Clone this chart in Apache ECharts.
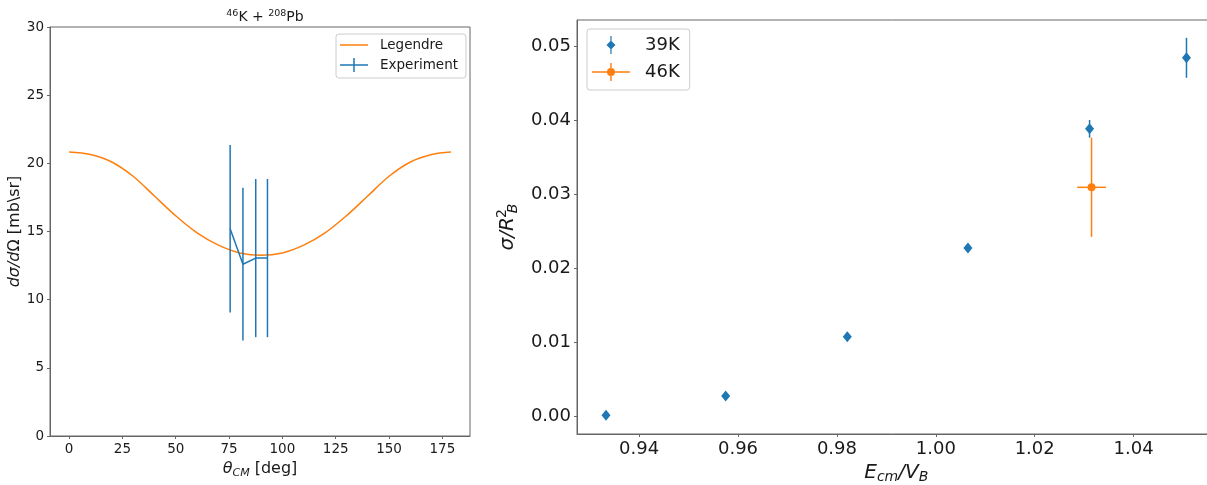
<!DOCTYPE html>
<html>
<head>
<meta charset="utf-8">
<script src="https://cdn.jsdelivr.net/npm/echarts@6/dist/echarts.min.js"></script>
<style>
html,body{margin:0;padding:0;background:#fff;}
#chart{width:1207px;height:485px;}
</style>
</head>
<body>
<div id="chart"></div>
<script>
// ---------- data: left panel (46K + 208Pb) ----------
const legTheta = [0, 10, 20, 30, 40, 50, 60, 70, 80, 90, 100, 110, 120, 130, 140, 150, 160, 170, 179];
const legSigma = [20.83, 20.65, 20.10, 19.05, 17.60, 16.15, 14.90, 14.00, 13.43, 13.25, 13.43, 14.00, 14.90, 16.15, 17.60, 19.05, 20.10, 20.65, 20.83];
const expTheta = [75.5, 81.5, 87.5, 93.0];
const expSigma = [15.2, 12.6, 13.05, 13.05];
const expErr = [6.15, 5.6, 5.8, 5.8];
const leftXTicks = [0, 25, 50, 75, 100, 125, 150, 175];
const leftYTicks = [0, 5, 10, 15, 20, 25, 30];

// ---------- data: right panel ----------
const k39X = [0.9333, 0.9575, 0.9821, 1.0065, 1.0311, 1.0507];
const k39Y = [0.0002, 0.0028, 0.0108, 0.0228, 0.0389, 0.0485];
const k39Err = [0.0001, 0.0002, 0.0003, 0.0004, 0.0012, 0.0027];
const k46X = [1.0315];
const k46Y = [0.0310];
const k46YErr = [0.0067];
const k46XErr = [0.0029];
const rightXTicks = [0.94, 0.96, 0.98, 1.00, 1.02, 1.04];
const rightYTicks = [0.00, 0.01, 0.02, 0.03, 0.04, 0.05];

const BLUE = '#1f77b4', ORANGE = '#ff7f0e';
const FONT = 'DejaVu Sans';
const TXT = '#1a1a1a';
const SPINE = '#666';

function errV(color, width) {
  return function (params, api) {
    const x = api.value(0), y = api.value(1), e = api.value(2);
    const p1 = api.coord([x, y - e]), p2 = api.coord([x, y + e]);
    return {type: 'line', shape: {x1: p1[0], y1: p1[1], x2: p2[0], y2: p2[1]},
      style: {stroke: color, lineWidth: width}};
  };
}
function errH(color, width) {
  return function (params, api) {
    const x = api.value(0), y = api.value(1), e = api.value(2);
    const p1 = api.coord([x - e, y]), p2 = api.coord([x + e, y]);
    return {type: 'line', shape: {x1: p1[0], y1: p1[1], x2: p2[0], y2: p2[1]},
      style: {stroke: color, lineWidth: width}};
  };
}

const dot = (x, y) => `M${x},${y}h0.01v0.01h-0.01z`;
const iconLine = 'path://' + dot(0, 0) + dot(28, 14) + 'M0,6.25h28v1.5h-28z';
const iconErr = 'path://' + dot(0, 0) + dot(28, 14) + 'M0,6.25h28v1.5h-28z M13.25,0h1.5v14h-1.5z';
const icon39 = 'path://' + dot(0, 0) + dot(38, 18) + 'M19,4.5 L23.5,9 L19,13.5 L14.5,9Z M18.4,0h1.2v18h-1.2z';
const icon46 = 'path://' + dot(0, 0) + dot(38, 18) + 'M0,8.3h38v1.4h-38z M18.3,0h1.4v18h-1.4z M15,9 A4,4 0 1 1 23,9 A4,4 0 1 1 15,9Z';

const leftLabel = {fontFamily: FONT, fontSize: 13.5, color: TXT};
const rightLabel = {fontFamily: FONT, fontSize: 18, color: TXT};
const axLine = {show: true, onZero: false, lineStyle: {color: SPINE}};

const option = {
  animation: false,
  backgroundColor: '#fff',
  title: {
    text: '{sup|46}K + {sup|208}Pb',
    left: 260, top: 4, textAlign: 'center',
    textStyle: {fontFamily: FONT, fontSize: 14, fontWeight: 'normal', color: TXT,
      rich: {sup: {fontFamily: FONT, fontSize: 9.5, color: TXT, padding: [0, 0, 7, 0]}}}
  },
  grid: [
    {left: 50, right: 737, top: 27, bottom: 49, show: true, borderColor: SPINE, borderWidth: 1,
      containLabel: false, outerBoundsMode: 'none'},
    {left: 577, right: -8.5, top: 20, bottom: 51, show: true, borderColor: SPINE, borderWidth: 1,
      containLabel: false, outerBoundsMode: 'none'}
  ],
  xAxis: [
    {gridIndex: 0, type: 'value', min: -8.95, max: 187.95,
      axisLine: axLine,
      axisTick: {show: true, length: 3, customValues: leftXTicks, lineStyle: {color: SPINE}},
      axisLabel: Object.assign({customValues: leftXTicks, margin: 6}, leftLabel),
      splitLine: {show: false},
      name: '{it|θ}{sub|CM} [deg]', nameLocation: 'middle', nameGap: 20,
      nameTextStyle: {fontFamily: FONT, fontSize: 16, color: TXT,
        rich: {it: {fontFamily: FONT, fontSize: 16, fontStyle: 'italic', color: TXT},
               sub: {fontFamily: FONT, fontSize: 11, fontStyle: 'italic', color: TXT, padding: [8, 0, 0, 0]}}}
    },
    {gridIndex: 1, type: 'value', min: 0.92743, max: 1.05657,
      axisLine: axLine,
      axisTick: {show: true, length: 3, customValues: rightXTicks, lineStyle: {color: SPINE}},
      axisLabel: Object.assign({customValues: rightXTicks, margin: 6, formatter: v => v.toFixed(2)}, rightLabel),
      splitLine: {show: false},
      name: '{it|E}{sub|cm}{it|/V}{sub|B}', nameLocation: 'middle', nameGap: 24,
      nameTextStyle: {fontFamily: FONT, fontSize: 20, color: TXT,
        rich: {it: {fontFamily: FONT, fontSize: 20, fontStyle: 'italic', color: TXT},
               sub: {fontFamily: FONT, fontSize: 14, fontStyle: 'italic', color: TXT, padding: [9, 0, 0, 0]}}}
    }
  ],
  yAxis: [
    {gridIndex: 0, type: 'value', min: 0, max: 30,
      axisLine: axLine,
      axisTick: {show: true, length: 3, customValues: leftYTicks, lineStyle: {color: SPINE}},
      axisLabel: Object.assign({customValues: leftYTicks, margin: 6}, leftLabel),
      splitLine: {show: false},
      name: '{it|dσ/d}Ω [mb\\sr]', nameLocation: 'middle', nameGap: 25,
      nameTextStyle: {fontFamily: FONT, fontSize: 16, color: TXT,
        rich: {it: {fontFamily: FONT, fontSize: 16, fontStyle: 'italic', color: TXT}}}
    },
    {gridIndex: 1, type: 'value', min: -0.00234, max: 0.05361,
      axisLine: axLine,
      axisTick: {show: true, length: 3, customValues: rightYTicks, lineStyle: {color: SPINE}},
      axisLabel: Object.assign({customValues: rightYTicks, margin: 6, formatter: v => v.toFixed(2)}, rightLabel),
      splitLine: {show: false},
      name: '{it|σ/R}{sup|2}{sub|B}', nameLocation: 'middle', nameGap: 50,
      nameTextStyle: {fontFamily: FONT, fontSize: 20, color: TXT,
        rich: {it: {fontFamily: FONT, fontSize: 20, fontStyle: 'italic', color: TXT},
               sup: {fontFamily: FONT, fontSize: 14, color: TXT, padding: [0, 0, 11, 3], width: 1},
               sub: {fontFamily: FONT, fontSize: 14, fontStyle: 'italic', color: TXT, padding: [10, 0, 0, 0]}}}
    }
  ],
  legend: [
    {orient: 'vertical', left: 336, top: 34, itemWidth: 28, itemHeight: 14, itemGap: 6,
      padding: [4, 8, 6, 4], borderColor: '#ccc', borderWidth: 1, borderRadius: 3, backgroundColor: '#fff',
      selectedMode: false,
      textStyle: {fontFamily: FONT, fontSize: 13.5, color: TXT, padding: [0, 0, 0, 7]},
      data: [
        {name: 'Legendre', icon: iconLine, itemStyle: {color: ORANGE, borderWidth: 0}},
        {name: 'Experiment', icon: iconErr, itemStyle: {color: BLUE, borderWidth: 0}}
      ]},
    {orient: 'vertical', left: 587, top: 29, itemWidth: 38, itemHeight: 18, itemGap: 9,
      padding: [7, 10, 9, 5], borderColor: '#ccc', borderWidth: 1, borderRadius: 3, backgroundColor: '#fff',
      selectedMode: false,
      textStyle: {fontFamily: FONT, fontSize: 18, color: TXT, padding: [0, 0, 0, 10]},
      data: [
        {name: '39K', icon: icon39, itemStyle: {color: BLUE, borderWidth: 0}},
        {name: '46K', icon: icon46, itemStyle: {color: ORANGE, borderWidth: 0}}
      ]}
  ],
  series: [
    {name: 'Legendre', type: 'line', xAxisIndex: 0, yAxisIndex: 0, smooth: 0.35,
      showSymbol: false, symbol: 'none', lineStyle: {color: ORANGE, width: 1.5}, itemStyle: {color: ORANGE},
      data: legTheta.map((t, i) => [t, legSigma[i]]), z: 3},
    {name: 'Experiment', type: 'line', xAxisIndex: 0, yAxisIndex: 0,
      showSymbol: false, symbol: 'none', lineStyle: {color: BLUE, width: 1.5}, itemStyle: {color: BLUE},
      data: expTheta.map((t, i) => [t, expSigma[i]]), z: 4},
    {name: 'Experiment err', type: 'custom', xAxisIndex: 0, yAxisIndex: 0, renderItem: errV(BLUE, 1.5),
      encode: {x: 0, y: 1}, data: expTheta.map((t, i) => [t, expSigma[i], expErr[i]]), z: 4, silent: true},
    {name: '39K err', type: 'custom', xAxisIndex: 1, yAxisIndex: 1, renderItem: errV(BLUE, 1.5),
      encode: {x: 0, y: 1}, data: k39X.map((x, i) => [x, k39Y[i], k39Err[i]]), z: 3, silent: true},
    {name: '46K yerr', type: 'custom', xAxisIndex: 1, yAxisIndex: 1, renderItem: errV(ORANGE, 1.5),
      encode: {x: 0, y: 1}, data: k46X.map((x, i) => [x, k46Y[i], k46YErr[i]]), z: 3, silent: true},
    {name: '46K xerr', type: 'custom', xAxisIndex: 1, yAxisIndex: 1, renderItem: errH(ORANGE, 1.5),
      encode: {x: 0, y: 1}, data: k46X.map((x, i) => [x, k46Y[i], k46XErr[i]]), z: 3, silent: true},
    {name: '39K', type: 'scatter', xAxisIndex: 1, yAxisIndex: 1, symbol: 'diamond', symbolSize: [9, 11],
      itemStyle: {color: BLUE, opacity: 1}, data: k39X.map((x, i) => [x, k39Y[i]]), z: 5},
    {name: '46K', type: 'scatter', xAxisIndex: 1, yAxisIndex: 1, symbol: 'circle', symbolSize: 8,
      itemStyle: {color: ORANGE, opacity: 1}, data: k46X.map((x, i) => [x, k46Y[i]]), z: 5}
  ]
};

const chart = echarts.init(document.getElementById('chart'), null, {renderer: 'canvas'});
chart.setOption(option);
</script>
</body>
</html>
